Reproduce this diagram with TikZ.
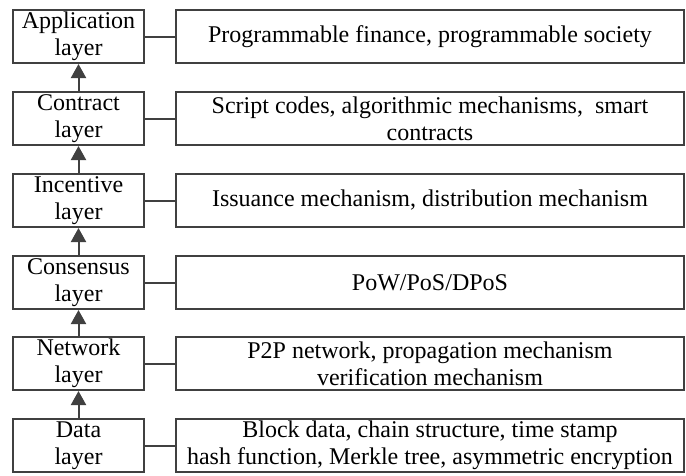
\documentclass[tikz,border=0pt]{standalone}
\usepackage{fontspec}
\setmainfont{Liberation Serif}
\usetikzlibrary{arrows.meta}
\definecolor{ink}{HTML}{404040}
\tikzset{
  layerbox/.style={draw=ink, line width=2pt, minimum width=131pt, minimum height=53pt,
    inner sep=0pt, align=center, font=\fontsize{24}{27}\selectfont, text=black},
  descbox/.style={draw=ink, line width=2pt, minimum width=508pt, minimum height=53pt,
    inner sep=0pt, align=center, font=\fontsize{24}{27}\selectfont, text=black},
  link/.style={draw=ink, line width=2pt},
  upward/.style={draw=ink, line width=2pt, -{Triangle[length=14pt,width=15pt]}}
}
\begin{document}
\begin{tikzpicture}[x=1pt,y=-1pt]
  \useasboundingbox (0,0) rectangle (686,475);
  % layer boxes (left column)
  \node[layerbox] (app) at (78.5,36.5) {Application\\layer};
  \node[layerbox] (con) at (78.5,118.5) {Contract\\layer};
  \node[layerbox] (inc) at (78.5,200.5) {Incentive\\layer};
  \node[layerbox] (cns) at (78.5,282.5) {Consensus\\layer};
  \node[layerbox] (net) at (78.5,363.5) {Network\\layer};
  \node[layerbox] (dat) at (78.5,445.5) {Data\\layer};
  % description boxes (right column)
  \node[descbox] (dapp) at (430,36.5) {Programmable finance, programmable society};
  \node[descbox] (dcon) at (430,118.5) {Script codes, algorithmic mechanisms,\ \ smart\\contracts};
  \node[descbox] (dinc) at (430,200.5) {Issuance mechanism, distribution mechanism};
  \node[descbox] (dcns) at (430,282.5) {PoW/PoS/DPoS};
  \node[descbox] (dnet) at (430,363.5) {P2P network, propagation mechanism\\verification mechanism};
  \node[descbox] (ddat) at (430,445.5) {Block data, chain structure, time stamp\\hash function, Merkle tree, asymmetric encryption};
  % horizontal links
  \foreach \a/\b in {app/dapp, con/dcon, inc/dinc, cns/dcns, net/dnet, dat/ddat}
    \draw[link] (\a.east) -- (\b.west);
  % upward arrows between layers
  \foreach \a/\b in {dat/net, net/cns, cns/inc, inc/con, con/app}
    \draw[upward] (\a.north) -- (\b.south);
\end{tikzpicture}
\end{document}
